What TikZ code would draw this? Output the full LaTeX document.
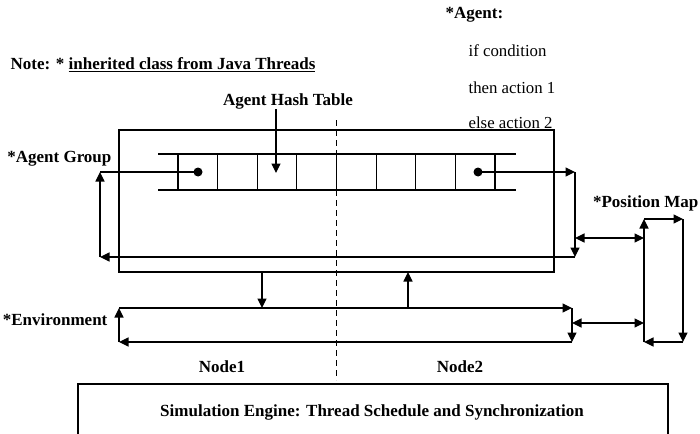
\documentclass[tikz,border=0pt]{standalone}
\usepackage{fontspec}
\setmainfont{Liberation Serif}
\usetikzlibrary{arrows.meta}
\begin{document}
\begin{tikzpicture}[x=1pt, y=-1pt, line width=1.2pt,
  tip/.tip={Triangle[length=9.5pt,width=9pt]},
  arr/.style={-tip},
  dbl/.style={tip-tip},
  lbl/.style={font=\bfseries\fontsize{17}{19}\selectfont, inner sep=0},
  txt/.style={font=\fontsize{16.8}{19}\selectfont, inner sep=0},
  frame/.style={draw, inner sep=0, outer sep=0},
  dot/.style={circle, fill, inner sep=0, minimum size=9pt},
  divider/.style={dash pattern=on 6pt off 4pt, line width=0.9pt}]
\useasboundingbox (0,0) rectangle (700,433);

% captions and notes
\node[lbl, anchor=west] (note) at (10,65) {Note: * \underline{inherited class from Java Threads}};
\node[lbl, anchor=west] (agent) at (445,15) {*Agent:};
\node[txt, anchor=west] (cond1) at (468,51) {if condition};
\node[txt, anchor=west] (cond2) at (468,88) {then action 1};
\node[txt, anchor=west] (cond3) at (468,123) {else action 2};
\node[lbl] (aht) at (288,101) {Agent Hash Table};
\node[lbl, anchor=east] (aglbl) at (112,159) {*Agent Group};
\node[lbl, anchor=east] (pmlbl) at (699,203) {*Position Map};
\node[lbl, anchor=east] (envlbl) at (108,320) {*Environment};
\node[lbl] (n1) at (222,367) {Node1};
\node[lbl] (n2) at (460,367) {Node2};

% agent group frame
\node[frame, anchor=north west, minimum width=435pt, minimum height=142pt] (grp) at (119,130) {};

% hash table
\draw (158,154) -- (516,154);
\draw (158,190) -- (516,190);
\foreach \k in {0,...,8}
  \draw ({178+39.625*\k},154) -- ({178+39.625*\k},190);
\node[dot] (d1) at (198,172) {};
\node[dot] (d2) at (478,172) {};
\coordinate (htcell) at (276,173);
\draw[arr] (aht.south -| htcell) -- (htcell);

% agent group loop
\coordinate (lt) at (100,172);
\coordinate (lb) at (100,257);
\coordinate (rt) at (575,172);
\coordinate (rb) at (575,257);
\draw (d1.center) -- (lt);
\draw[arr] (d2.center) -- (rt);
\draw[arr] (rt) -- (rb);
\draw[arr] (rb) -- (lb);
\draw[arr] (lb) -- (lt);

% environment loop
\coordinate (e1) at (119,308);
\coordinate (e2) at (572,308);
\coordinate (e3) at (572,342);
\coordinate (e4) at (119,342);
\draw[arr] (e1) -- (e2);
\draw[arr] (e2) -- (e3);
\draw[arr] (e3) -- (e4);
\draw[arr] (e4) -- (e1);

% exchange between agent group and environment
\coordinate (gdown) at (262,0);
\coordinate (gup) at (408,0);
\draw[arr] (grp.south -| gdown) -- (e1 -| gdown);
\draw[arr] (e1 -| gup) -- (grp.south -| gup);

% position map loop
\coordinate (p1) at (644,219);
\coordinate (p2) at (683,219);
\coordinate (p3) at (683,342);
\coordinate (p4) at (644,342);
\draw[arr] (p4) -- (p1);
\draw[arr] (p1) -- (p2);
\draw[arr] (p2) -- (p3);
\draw[arr] (p3) -- (p4);

% links to the position map
\coordinate (l1) at (0,238);
\coordinate (l2) at (0,323);
\draw[dbl] (rb |- l1) -- (p1 |- l1);
\draw[dbl] (e2 |- l2) -- (p1 |- l2);

% node boundary
\coordinate (dtop) at (336,120);
\coordinate (dbot) at (336,380);
\draw[divider] (dtop) -- (dbot);

% simulation engine
\node[frame, anchor=north west, minimum width=590pt, minimum height=100pt] (sim) at (78,384) {};
\node[lbl] (simlbl) at (372,412) {Simulation Engine: Thread Schedule and Synchronization};
\end{tikzpicture}
\end{document}
